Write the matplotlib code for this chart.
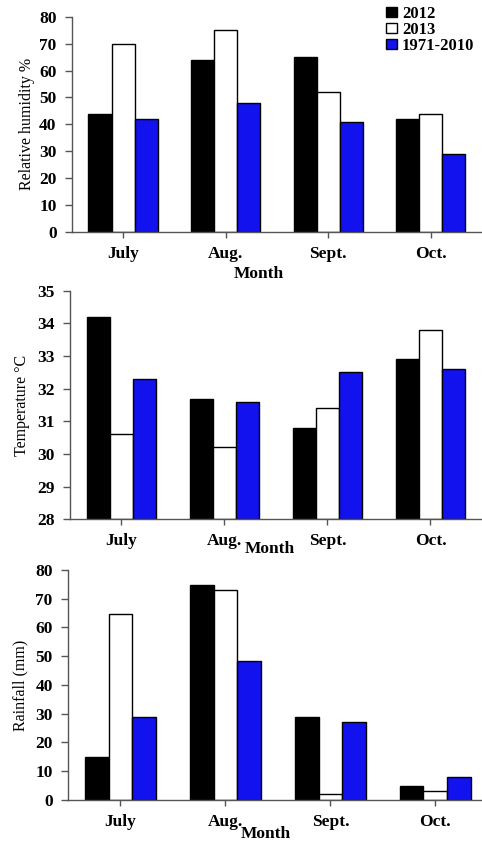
import matplotlib.pyplot as plt
import numpy as np
from matplotlib.patches import Patch

plt.rcParams['font.family'] = ['Liberation Serif', 'DejaVu Serif']

months = ['July', 'Aug.', 'Sept.', 'Oct.']
series = ['2012', '2013', '1971-2010']
colors = ['black', 'white', '#1212EE']

rh_2012 = [44, 64, 65, 42]
rh_2013 = [70, 75, 52, 44]
rh_norm = [42, 48, 41, 29]

temp_2012 = [34.2, 31.7, 30.8, 32.9]
temp_2013 = [30.6, 30.2, 31.4, 33.8]
temp_norm = [32.3, 31.6, 32.5, 32.6]

rain_2012 = [15, 74.7, 29, 5]
rain_2013 = [64.5, 73, 2, 3]
rain_norm = [29, 48.3, 27, 8]

fig = plt.figure(figsize=(4.82, 8.43), dpi=100)

# [left, bottom, width, height]
ax1 = fig.add_axes([0.149, 0.725, 0.851, 0.255])
ax2 = fig.add_axes([0.145, 0.384, 0.855, 0.271])
ax3 = fig.add_axes([0.141, 0.051, 0.871, 0.273])

x = np.arange(len(months))
w = 0.225


def draw(ax, vals, ylim, yticks, ylabel, xlab_y, xlab_x=0.5, lpad=4):
    for i, v in enumerate(vals):
        ax.bar(x + (i - 1) * w, np.array(v) - ylim[0], w, bottom=ylim[0],
               color=colors[i], edgecolor='black', linewidth=1.0)
    ax.set_xlim(-0.5, 3.5)
    ax.set_ylim(*ylim)
    ax.set_yticks(yticks)
    ax.set_yticklabels([str(t) for t in yticks], fontweight='bold', fontsize=12.5)
    ax.set_xticks(x)
    ax.set_xticklabels(months, fontweight='bold', fontsize=12.5)
    ax.spines['top'].set_visible(False)
    ax.spines['right'].set_visible(False)
    for s in ['left', 'bottom']:
        ax.spines[s].set_color('#555555')
        ax.spines[s].set_linewidth(1.0)
    ax.tick_params(axis='y', length=5, width=1, color='#555555', pad=6)
    ax.tick_params(axis='x', length=4, width=1, color='#555555', pad=6)
    ax.set_ylabel(ylabel, fontsize=11.5, labelpad=lpad)
    ax.text(xlab_x, xlab_y, 'Month', transform=ax.transAxes, ha='center',
            va='center', fontweight='bold', fontsize=12.5)


draw(ax1, [rh_2012, rh_2013, rh_norm], (0, 80), range(0, 81, 10),
     'Relative humidity %', -0.195, 0.455, 3)
draw(ax2, [temp_2012, temp_2013, temp_norm], (28, 35), range(28, 36),
     'Temperature \u00b0C', -0.128, 0.485, 5)
draw(ax3, [rain_2012, rain_2013, rain_norm], (0, 80), range(0, 81, 10),
     'Rainfall (mm)', -0.148, 0.47, 5)

handles = [Patch(facecolor=c, edgecolor='black', linewidth=1.0) for c in colors]
fig.legend(handles, series, loc='upper left', bbox_to_anchor=(0.801, 0.993),
           frameon=False, prop={'weight': 'bold', 'size': 12},
           handlelength=0.65, handleheight=0.5, handletextpad=0.3,
           labelspacing=0.0, borderaxespad=0, borderpad=0)

fig.savefig('out.png', dpi=100)
